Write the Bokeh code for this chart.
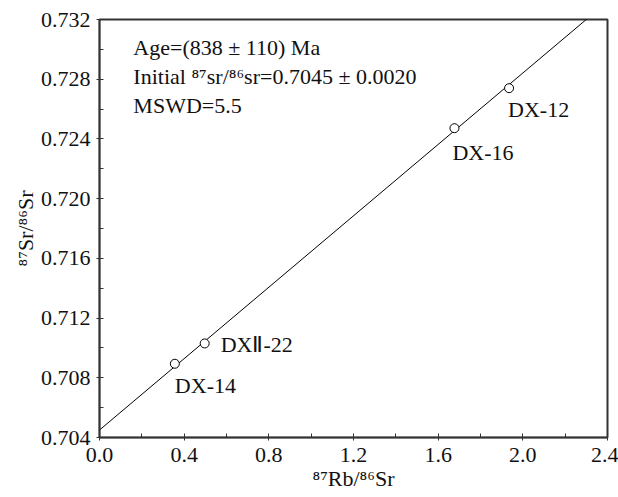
from bokeh.plotting import figure
from bokeh.models import FixedTicker, Range1d, ColumnDataSource, Label, PrintfTickFormatter
from bokeh.core.properties import value
from bokeh.embed import file_html
from bokeh.resources import INLINE

# data
samples = ["DX-14", "DX\u2161-22", "DX-16", "DX-12"]
rb_sr = [0.356, 0.497, 1.677, 1.935]
sr_sr = [0.70894, 0.71030, 0.72472, 0.72740]
label_dx = [0, 16, -2, -1]
label_dy = [22, 1, 24, 21]

iso_x = [0.0, 2.4]
iso_y = [0.7045, 0.7332]

x_ticks = [0.0, 0.4, 0.8, 1.2, 1.6, 2.0, 2.4]
x_minor = [0.2, 0.6, 1.0, 1.4, 1.8, 2.2]
y_ticks = [0.704, 0.708, 0.712, 0.716, 0.720, 0.724, 0.728, 0.732]
y_minor = [0.706, 0.710, 0.714, 0.718, 0.722, 0.726, 0.730]

ann_lines = ["Age=(838 \u00b1 110) Ma",
             "Initial \u2078\u2077sr/\u2078\u2076sr=0.7045 \u00b1 0.0020",
             "MSWD=5.5"]
x_title = "\u2078\u2077Rb/\u2078\u2076Sr"
y_title = "\u2078\u2077Sr/\u2078\u2076Sr"

FONT = "'Liberation Serif', 'Times New Roman', serif"
FS = "22px"

p = figure(width=618, height=497, output_backend="svg", toolbar_location=None,
           x_range=Range1d(0.0, 2.4), y_range=Range1d(0.704, 0.732),
           min_border_left=99, min_border_right=11, min_border_top=19, min_border_bottom=60)
p.background_fill_color = "white"
p.border_fill_color = "white"
p.grid.visible = False
p.outline_line_color = "#333333"
p.outline_line_width = 2

for ax in (p.xaxis[0], p.yaxis[0]):
    ax.axis_line_color = "#333333"
    ax.axis_line_width = 1.5
    ax.major_tick_line_color = "#333333"
    ax.minor_tick_line_color = "#333333"
    ax.major_tick_in = 4
    ax.major_tick_out = 3
    ax.minor_tick_in = 4
    ax.minor_tick_out = 0
    ax.major_label_text_font = FONT
    ax.major_label_text_font_size = FS
    ax.major_label_text_color = "#111111"
    ax.axis_label_text_font = FONT
    ax.axis_label_text_font_size = FS
    ax.axis_label_text_font_style = "normal"
    ax.axis_label_text_color = "#111111"

p.xaxis[0].ticker = FixedTicker(ticks=x_ticks, minor_ticks=x_minor)
p.yaxis[0].ticker = FixedTicker(ticks=y_ticks, minor_ticks=y_minor)
p.xaxis[0].formatter = PrintfTickFormatter(format="%.1f")
p.yaxis[0].formatter = PrintfTickFormatter(format="%.3f")
p.xaxis[0].major_label_standoff = 7
p.yaxis[0].major_label_standoff = 6
p.xaxis[0].axis_label = x_title
p.yaxis[0].axis_label = y_title
p.xaxis[0].axis_label_standoff = 1
p.yaxis[0].axis_label_standoff = 0

p.line(iso_x, iso_y, line_color="black", line_width=1)

src = ColumnDataSource(dict(x=rb_sr, y=sr_sr, name=samples, dx=label_dx, dy=label_dy))
p.scatter("x", "y", source=src, marker="circle", size=9, fill_color="white",
          line_color="black", line_width=1)
p.text("x", "y", text="name", source=src, x_offset="dx", y_offset="dy",
       text_font=value(FONT), text_font_size=FS, text_color="#111111",
       text_baseline="alphabetic", text_align="left")

ann_y = [0.73012, 0.72818, 0.72624]
for t, yy in zip(ann_lines, ann_y):
    p.add_layout(Label(x=0.16, y=yy, text=t, text_font=FONT, text_font_size=FS,
                       text_color="#111111", text_baseline="alphabetic"))

open("out.html", "w").write(file_html(p, INLINE))
